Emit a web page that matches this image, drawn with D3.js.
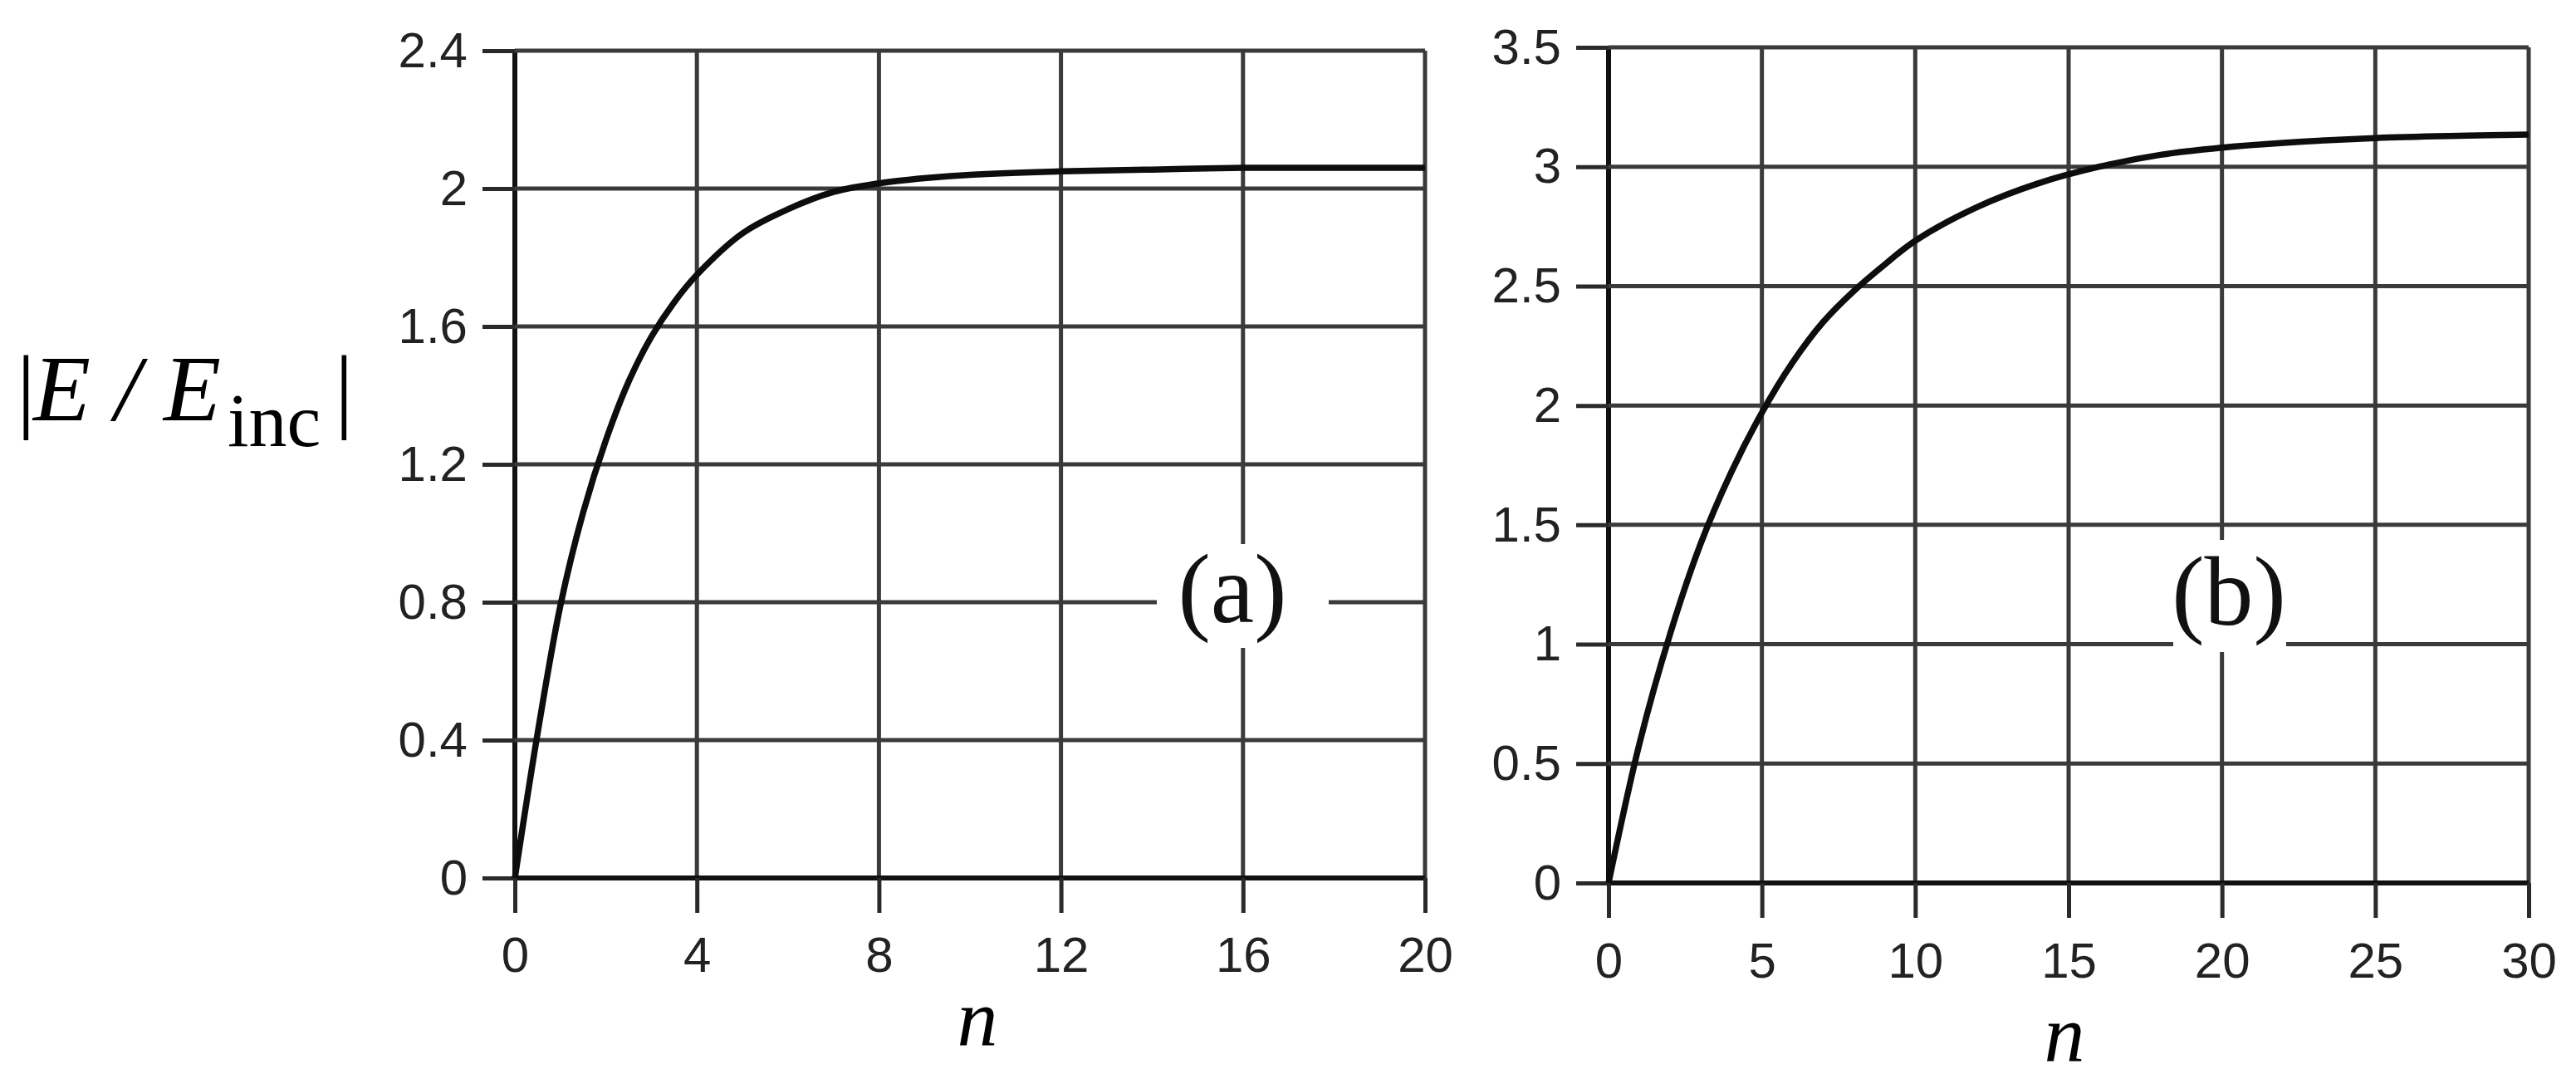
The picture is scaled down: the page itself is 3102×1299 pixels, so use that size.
<!DOCTYPE html>
<html>
<head>
<meta charset="utf-8">
<script src="https://cdn.jsdelivr.net/npm/d3@7"></script>
<style>
body { margin: 0; background: #fff; }
.tick text { font-family: "Liberation Sans", Arial, sans-serif; font-size: 60px; fill: #222; }
</style>
</head>
<body>
<script>
// panel (a)
var nA = [0, 0.5, 1, 1.5, 2, 2.5, 3, 3.5, 4, 5, 6, 7, 8, 9, 10, 12, 14, 16, 18, 20];
var eA = [0, 0.42, 0.79, 1.06, 1.27, 1.44, 1.57, 1.67, 1.75, 1.87, 1.94, 1.99, 2.015, 2.03, 2.04, 2.05, 2.055, 2.06, 2.06, 2.06];
var xTicksA = [0, 4, 8, 12, 16, 20];
var yTicksA = [0, 0.4, 0.8, 1.2, 1.6, 2, 2.4];

// panel (b)
var nB = [0, 1, 2, 3, 4, 5, 6, 7, 8, 9, 10, 12, 14, 16, 18, 20, 22, 25, 28, 30];
var eB = [0, 0.58, 1.04, 1.42, 1.72, 1.97, 2.18, 2.35, 2.48, 2.59, 2.69, 2.83, 2.93, 3.0, 3.05, 3.08, 3.1, 3.12, 3.13, 3.135];
var xTicksB = [0, 5, 10, 15, 20, 25, 30];
var yTicksB = [0, 0.5, 1, 1.5, 2, 2.5, 3, 3.5];

var svg = d3.select("body").append("svg")
    .attr("width", 3102)
    .attr("height", 1299);

svg.append("rect")
    .attr("width", 3102)
    .attr("height", 1299)
    .attr("fill", "#fff");

function drawPanel(p) {
    var x = d3.scaleLinear().domain([0, p.xTicks[p.xTicks.length - 1]]).range([p.left, p.right]);
    var y = d3.scaleLinear().domain([0, p.yTicks[p.yTicks.length - 1]]).range([p.bottom, p.top]);

    var g = svg.append("g");

    // grid lines
    g.selectAll(".vgrid")
        .data(p.xTicks).enter()
        .append("line")
        .attr("x1", function (d) { return x(d); })
        .attr("x2", function (d) { return x(d); })
        .attr("y1", p.top)
        .attr("y2", p.bottom)
        .attr("stroke", function (d) { return d === 0 ? "#111" : "#3a3a3a"; })
        .attr("stroke-width", function (d) { return d === 0 ? 6 : 5; });

    g.selectAll(".hgrid")
        .data(p.yTicks).enter()
        .append("line")
        .attr("x1", p.left)
        .attr("x2", p.right)
        .attr("y1", function (d) { return y(d); })
        .attr("y2", function (d) { return y(d); })
        .attr("stroke", function (d) { return d === 0 ? "#111" : "#3a3a3a"; })
        .attr("stroke-width", function (d) { return d === 0 ? 6 : 5; });

    // axes (outer ticks + labels)
    var xAxis = g.append("g")
        .attr("transform", "translate(0," + p.bottom + ")")
        .call(d3.axisBottom(x).tickValues(p.xTicks).tickSize(42).tickPadding(p.xPad).tickFormat(function (d) { return d; }));
    var yAxis = g.append("g")
        .attr("transform", "translate(" + p.left + ",0)")
        .call(d3.axisLeft(y).tickValues(p.yTicks).tickSize(39).tickPadding(p.yPad).tickFormat(function (d) { return d; }));

    [xAxis, yAxis].forEach(function (a) {
        a.select(".domain").remove();
        a.selectAll(".tick line").attr("stroke", "#2a2a2a").attr("stroke-width", 5);
        a.attr("font-size", null).attr("font-family", null);
    });

    // panel tag with white backing
    g.append("rect")
        .attr("x", p.box[0]).attr("y", p.box[1])
        .attr("width", p.box[2]).attr("height", p.box[3])
        .attr("fill", "#fff");
    g.append("text")
        .attr("x", p.tagPos[0])
        .attr("y", p.tagPos[1])
        .attr("text-anchor", "middle")
        .style("font-family", "'Liberation Serif', 'Times New Roman', serif")
        .style("font-size", "118px")
        .attr("fill", "#111")
        .text(p.tag);

    // curve
    var line = d3.line()
        .x(function (d) { return x(d[0]); })
        .y(function (d) { return y(d[1]); })
        .curve(d3.curveCatmullRom.alpha(0.5));

    g.append("path")
        .datum(d3.zip(p.n, p.e))
        .attr("d", line)
        .attr("fill", "none")
        .attr("stroke", "#0d0d0d")
        .attr("stroke-width", 7.5)
        .attr("stroke-linejoin", "round");

    // x label
    g.append("text")
        .attr("x", p.nPos[0])
        .attr("y", p.nPos[1])
        .attr("text-anchor", "middle")
        .style("font-family", "'Liberation Serif', 'Times New Roman', serif")
        .style("font-style", "italic")
        .style("font-size", "98px")
        .attr("fill", "#000")
        .text("n");
}

drawPanel({
    n: nA, e: eA, xTicks: xTicksA, yTicks: yTicksA,
    left: 620, right: 1716, top: 61, bottom: 1057,
    xPad: 28, yPad: 18,
    tag: "(a)", tagPos: [1484, 749], box: [1393, 655, 207, 125],
    nPos: [1177, 1258]
});

drawPanel({
    n: nB, e: eB, xTicks: xTicksB, yTicks: yTicksB,
    left: 1937, right: 3045, top: 57, bottom: 1063,
    xPad: 29, yPad: 18,
    tag: "(b)", tagPos: [2684, 752], box: [2617, 650, 136, 135],
    nPos: [2486, 1277]
});

// shared y label |E / E_inc|
var ylab = svg.append("text")
    .attr("y", 506)
    .style("font-family", "'Liberation Serif', 'Times New Roman', serif")
    .style("font-size", "113px")
    .attr("fill", "#000");
ylab.append("tspan").attr("x", 20).text("|");
ylab.append("tspan").attr("x", 40).style("font-style", "italic").text("E");
ylab.append("tspan").attr("x", 138).style("font-style", "italic").text("/");
ylab.append("tspan").attr("x", 197).style("font-style", "italic").text("E");
ylab.append("tspan").attr("x", 274).attr("y", 537).style("font-size", "92px").text("inc");
ylab.append("tspan").attr("x", 403).attr("y", 506).text("|");
</script>
</body>
</html>
